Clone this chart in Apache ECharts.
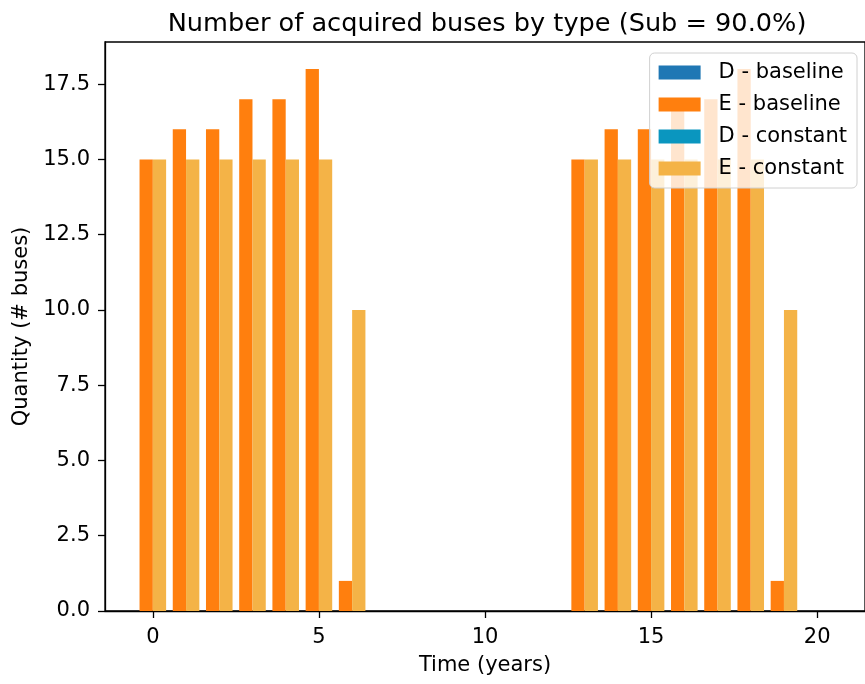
<!DOCTYPE html>
<html>
<head>
<meta charset="utf-8">
<script src="https://cdn.jsdelivr.net/npm/echarts@6/dist/echarts.min.js"></script>
<style>html,body{margin:0;padding:0;background:#fff;}#c{width:865px;height:684px;}</style>
</head>
<body>
<div id="c"></div>
<script>
const years = [0,1,2,3,4,5,6,7,8,9,10,11,12,13,14,15,16,17,18,19,20];
const dBaseline = [0,0,0,0,0,0,0,0,0,0,0,0,0,0,0,0,0,0,0,0,0];
const eBaseline = [15,16,16,17,17,18,1,0,0,0,0,0,0,15,16,16,17,17,18,1,0];
const dConstant = [0,0,0,0,0,0,0,0,0,0,0,0,0,0,0,0,0,0,0,0,0];
const eConstant = [15,15,15,15,15,15,10,0,0,0,0,0,0,15,15,15,15,15,15,10,0];
const xTicks = [0,5,10,15,20];
const yTicks = [0,2.5,5,7.5,10,12.5,15,17.5];
const seriesNames = ['D - baseline','E - baseline','D - constant','E - constant'];
const colors = ['#1f77b4','#ff7f0e','#0a96bf','#f4b347'];

const FONT = 'DejaVu Sans';
const BAR_W = 0.4;

function makeSeries(name, color, vals, bases, side) {
  return {
    name: name,
    type: 'custom',
    itemStyle: { color: color },
    encode: { x: 0, y: 1 },
    data: years.map((y, i) => [y, vals[i] + bases[i], bases[i]]),
    renderItem: function (params, api) {
      const x = api.value(0), top = api.value(1), base = api.value(2);
      if (top - base <= 0) return null;
      const x0 = side < 0 ? x - BAR_W : x;
      const x1 = side < 0 ? x : x + BAR_W;
      const p0 = api.coord([x0, top]);
      const p1 = api.coord([x1, base]);
      return {
        type: 'rect',
        shape: { x: p0[0], y: p0[1], width: p1[0] - p0[0], height: p1[1] - p0[1] },
        style: { fill: color }
      };
    }
  };
}

const chart = echarts.init(document.getElementById('c'), null, { renderer: 'canvas' });
const zeros = years.map(() => 0);
chart.setOption({
  animation: false,
  backgroundColor: '#fff',
  title: {
    text: 'Number of acquired buses by type (Sub = 90.0%)',
    left: 482, textAlign: 'center', top: 6,
    textStyle: { fontFamily: FONT, fontSize: 25.6, fontWeight: 'normal', color: '#000' }
  },
  grid: {
    left: 105, right: -4, top: 42, bottom: 73,
    show: true, borderColor: '#000', borderWidth: 1.3, backgroundColor: 'transparent'
  },
  legend: {
    orient: 'vertical', right: 8, top: 53,
    data: seriesNames,
    icon: 'rect', itemWidth: 42, itemHeight: 14, itemGap: 11,
    padding: [9, 10, 9, 9],
    backgroundColor: 'rgba(255,255,255,0.8)', borderColor: '#d0d0d0', borderWidth: 1, borderRadius: 5,
    textStyle: { fontFamily: FONT, fontSize: 21, color: '#000', lineHeight: 21, padding: [0, 0, 0, 13] }
  },
  xAxis: {
    type: 'value', min: -1.44, max: 21.44,
    name: 'Time (years)', nameLocation: 'middle', nameGap: 44,
    nameTextStyle: { fontFamily: FONT, fontSize: 21, color: '#000' },
    axisLine: { show: true, onZero: false, lineStyle: { color: '#000', width: 1.3 } },
    axisTick: { show: true, length: 7, lineStyle: { color: '#000', width: 1.3 }, customValues: xTicks },
    axisLabel: { fontFamily: FONT, fontSize: 21, color: '#000', margin: 16, customValues: xTicks,
      formatter: v => String(v) },
    splitLine: { show: false }
  },
  yAxis: {
    type: 'value', min: 0, max: 18.9,
    name: 'Quantity (# buses)', nameLocation: 'middle', nameGap: 72,
    nameTextStyle: { fontFamily: FONT, fontSize: 21, color: '#000' },
    axisLine: { show: true, onZero: false, lineStyle: { color: '#000', width: 1.3 } },
    axisTick: { show: true, length: 7, lineStyle: { color: '#000', width: 1.3 }, customValues: yTicks },
    axisLabel: { fontFamily: FONT, fontSize: 21, color: '#000', margin: 15, customValues: yTicks,
      formatter: v => Number(v).toFixed(1) },
    splitLine: { show: false }
  },
  series: [
    makeSeries(seriesNames[0], colors[0], dBaseline, zeros, -1),
    makeSeries(seriesNames[1], colors[1], eBaseline, dBaseline, -1),
    makeSeries(seriesNames[2], colors[2], dConstant, zeros, 1),
    makeSeries(seriesNames[3], colors[3], eConstant, dConstant, 1)
  ]
});
</script>
</body>
</html>
